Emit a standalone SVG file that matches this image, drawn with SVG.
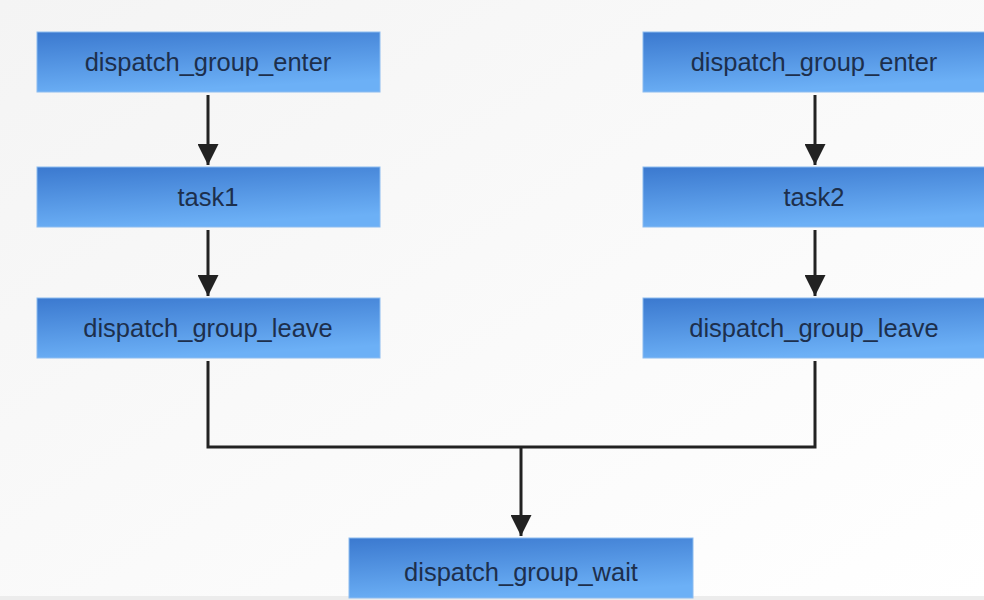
<svg xmlns="http://www.w3.org/2000/svg" width="984" height="600" viewBox="0 0 984 600">
<defs>
<linearGradient id="bg" x1="0" y1="0" x2="1" y2="1">
<stop offset="0" stop-color="#f4f4f4"/>
<stop offset="1" stop-color="#ffffff"/>
</linearGradient>
<linearGradient id="box" x1="0" y1="0" x2="0.3" y2="1">
<stop offset="0" stop-color="#3b79cf"/>
<stop offset="1" stop-color="#6cb0f6"/>
</linearGradient>
<marker id="arr" viewBox="0 0 10 10" refX="10" refY="5" markerWidth="7.5" markerHeight="7" orient="auto" markerUnits="strokeWidth">
<path d="M0,0 L10,5 L0,10 z" fill="#222"/>
</marker>
<style>
.n rect{fill:url(#box);stroke:#8cbcf0;stroke-width:1}
.n text{font-family:"Liberation Sans",Arial,sans-serif;font-size:25.5px;fill:#1d2f4c;text-anchor:middle;dominant-baseline:central}
.c path{fill:none;stroke:#222;stroke-width:3}
</style>
</defs>
<rect width="984" height="600" fill="url(#bg)"/>
<rect y="596" width="984" height="4" fill="#ececec"/>
<g id="enter1" class="n"><rect x="37" y="32" width="343" height="60"/><text x="208" y="62">dispatch_group_enter</text></g>
<g id="task1" class="n"><rect x="37" y="167" width="343" height="60"/><text x="208" y="197">task1</text></g>
<g id="leave1" class="n"><rect x="37" y="298" width="343" height="60"/><text x="208" y="328">dispatch_group_leave</text></g>
<g id="enter2" class="n"><rect x="643" y="32" width="343" height="60"/><text x="814" y="62">dispatch_group_enter</text></g>
<g id="task2" class="n"><rect x="643" y="167" width="343" height="60"/><text x="814" y="197">task2</text></g>
<g id="leave2" class="n"><rect x="643" y="298" width="343" height="60"/><text x="814" y="328">dispatch_group_leave</text></g>
<g id="wait" class="n"><rect x="349" y="538" width="344" height="60"/><text x="521" y="572">dispatch_group_wait</text></g>
<g id="connectors" class="c">
<path d="M208,95 V165" marker-end="url(#arr)"/>
<path d="M208,230 V296" marker-end="url(#arr)"/>
<path d="M815,95 V165" marker-end="url(#arr)"/>
<path d="M815,230 V296" marker-end="url(#arr)"/>
<path d="M208,361 V447 H815 V361"/>
<path d="M521,447 V536" marker-end="url(#arr)"/>
</g>
</svg>
